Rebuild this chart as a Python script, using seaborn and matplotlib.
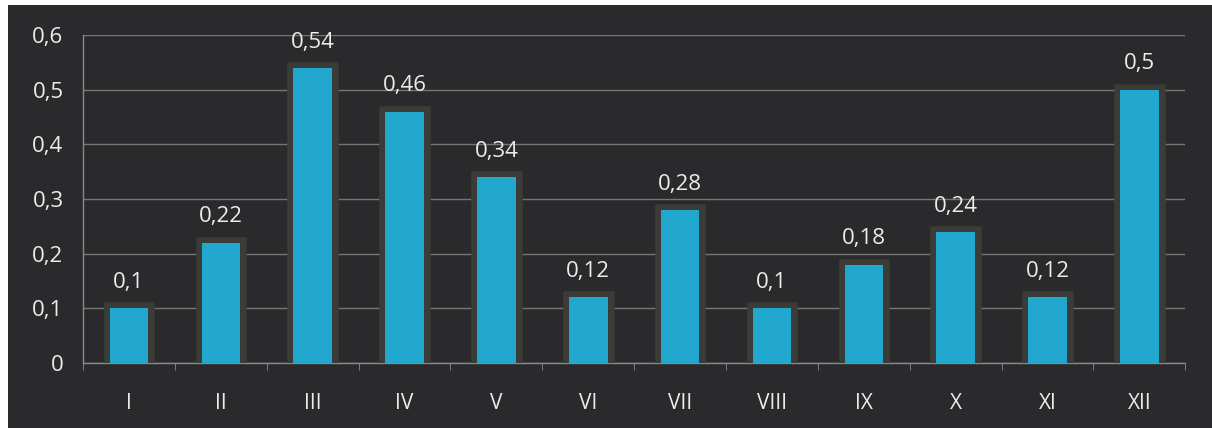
import numpy as np
import pandas as pd
import matplotlib.pyplot as plt
import matplotlib.patheffects as pe
from matplotlib.patches import Rectangle
import seaborn as sns

months = ["I", "II", "III", "IV", "V", "VI", "VII", "VIII", "IX", "X", "XI", "XII"]
values = [0.1, 0.22, 0.54, 0.46, 0.34, 0.12, 0.28, 0.1, 0.18, 0.24, 0.12, 0.5]
yticks = [0, 0.1, 0.2, 0.3, 0.4, 0.5, 0.6]

df = pd.DataFrame({"month": months, "value": values})

bg = "#2a2a2d"
txt = "#ececec"
grid = "#8a8a88"

sns.set_style("dark")
plt.rcParams["font.family"] = ["Open Sans", "DejaVu Sans"]

fig = plt.figure(figsize=(12.12, 4.28), dpi=100, facecolor=bg)
# white scanner margins
fig.patches.append(Rectangle((0, 0.988), 1, 0.012, transform=fig.transFigure,
                             facecolor="white", edgecolor="none", zorder=0))
fig.patches.append(Rectangle((0, 0), 0.0066, 1, transform=fig.transFigure,
                             facecolor="white", edgecolor="none", zorder=0))

ax = fig.add_axes([0.0685, 0.152, 0.9095, 0.766])
ax.set_facecolor(bg)

sns.barplot(data=df, x="month", y="value", color="#22a8cf", width=0.42,
            saturation=1, linewidth=0, edgecolor="none", ax=ax, zorder=3)
for p in ax.patches:
    p.set_path_effects([pe.Stroke(linewidth=9, foreground="#3b3b37"), pe.Normal()])

for i, v in enumerate(values):
    ax.annotate(f"{v:g}".replace(".", ","), (i, v), xytext=(0, 11),
                textcoords="offset points", ha="center", va="bottom",
                color=txt, fontsize=16)

ax.set_ylim(0, 0.6)
ax.set_xlim(-0.5, len(months) - 0.5)
ax.set_yticks(yticks)
ax.set_yticklabels([f"{t:g}".replace(".", ",") for t in yticks])
ax.set_xlabel("")
ax.set_ylabel("")

ax.yaxis.grid(True, color=grid, linewidth=1, alpha=0.8)
ax.xaxis.grid(False)
ax.set_axisbelow(True)

ax.set_xticks(np.arange(-0.5, len(months)), minor=True)
ax.tick_params(axis="x", which="major", length=0, colors=txt, labelsize=15, pad=22)
ax.tick_params(axis="x", which="minor", length=5, color=grid, bottom=True)
ax.tick_params(axis="y", length=0, colors=txt, labelsize=16, pad=14)

for side in ["top", "right"]:
    ax.spines[side].set_visible(False)
for side in ["left", "bottom"]:
    ax.spines[side].set_visible(True)
    ax.spines[side].set_color(grid)
    ax.spines[side].set_linewidth(1)

fig.savefig("out.png", dpi=100, facecolor=bg)
